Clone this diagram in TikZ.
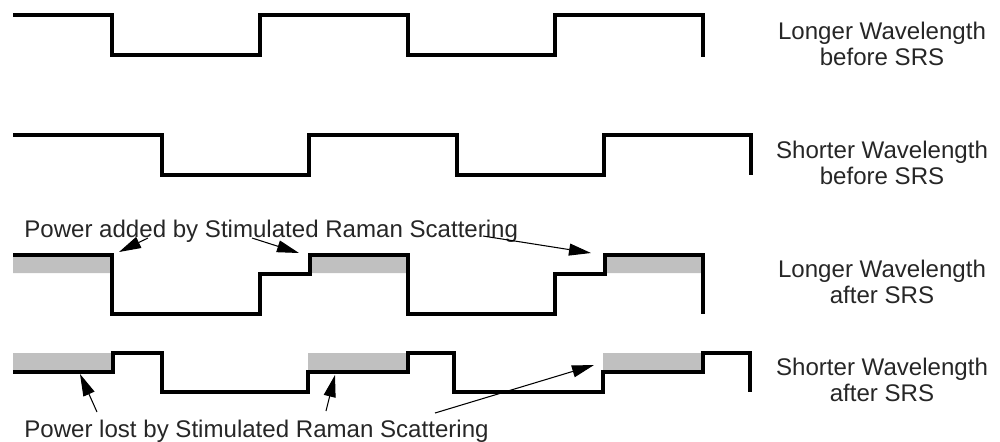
\documentclass[tikz,border=0pt]{standalone}
\usepackage{fontspec}
\setmainfont{Liberation Sans}
\usepackage{tikz}
\usetikzlibrary{arrows.meta,positioning}
\definecolor{srsGrey}{HTML}{C0C0C0}

\begin{document}
\begin{tikzpicture}[x=0.02cm, y=-0.02cm,
  font=\fontsize{13.7}{15}\selectfont,
  wave/.style={line width=1.8pt, line join=miter},
  gain/.style={fill=srsGrey},
  lbl/.style={align=center, text=black!85, inner sep=0pt},
  note/.style={-{Triangle[length=0.44cm, width=0.24cm]}, line width=0.6pt}]
\useasboundingbox (0,0) rectangle (1000,441);
\fill[gain] (13,255) rectangle (112,273) (310,255) rectangle (408,273) (605,255) rectangle (703,273);
\fill[gain] (13,353) rectangle (113,372) (308,353) rectangle (408,372) (603,353) rectangle (703,372);
\draw[wave] (13,15) -| (112,55) -| (260,15) -| (408,55) -| (555,15) -| (703,57);
\draw[wave] (13,135) -| (162,175) -| (309,135) -| (457,175) -| (604,135) -| (751,175);
\draw[wave] (13,255) -| (112,314) -| (260,274) -| (310,255) -| (408,314) -| (555,274) -| (605,255) -| (703,314);
\draw[wave] (13,372) -| (113,353) -| (162,392) -| (308,372) -| (408,353) -| (454,392) -| (603,372) -| (703,353) -| (750,392);
\node[lbl] (LB) at (882,44) {Longer Wavelength\\before SRS};
\node[lbl] (SB) at (882,163) {Shorter Wavelength\\before SRS};
\node[lbl] (LA) at (882,282) {Longer Wavelength\\after SRS};
\node[lbl] (SA) at (882,380) {Shorter Wavelength\\after SRS};
\node[lbl, anchor=base west] (added) at (24,237) {Power added by Stimulated Raman Scattering};
\node[lbl, anchor=base west] (lost) at (24,437) {Power lost by Stimulated Raman Scattering};
\coordinate (a1) at (148,238);
\coordinate (a2) at (252,238);
\coordinate (a3) at (483,236);
\coordinate (g1) at (119,252);
\coordinate (g2) at (299,253);
\coordinate (g3) at (591,253);
\coordinate (l1) at (97,412);
\coordinate (l2) at (326,411);
\coordinate (l3) at (435,413);
\coordinate (p1) at (80,374);
\coordinate (p2) at (335,375);
\coordinate (p3) at (594,365);
\draw[note] (a1) -- (g1);
\draw[note] (a2) -- (g2);
\draw[note] (a3) -- (g3);
\draw[note] (l1) -- (p1);
\draw[note] (l2) -- (p2);
\draw[note] (l3) -- (p3);
\end{tikzpicture}
\end{document}
